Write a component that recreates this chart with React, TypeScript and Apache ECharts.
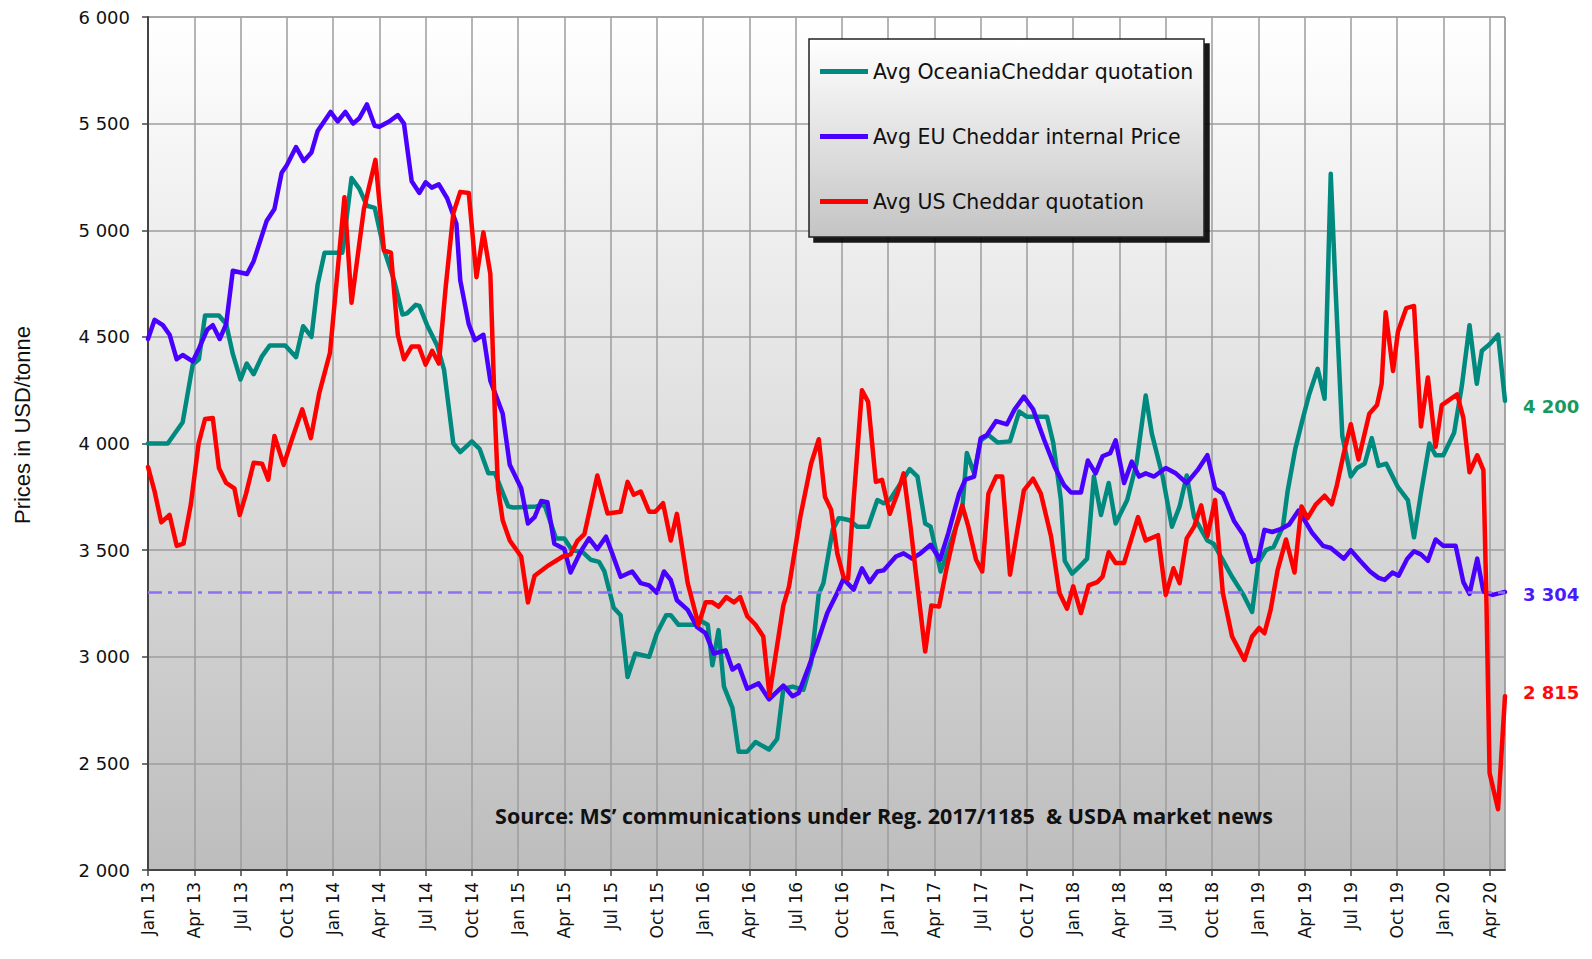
import React, { useEffect, useRef } from "react";
import * as echarts from "echarts";

// x = months since Jan 2013, y = USD/tonne
const quarterLabels = [
  "Jan 13", "Apr 13", "Jul 13", "Oct 13", "Jan 14", "Apr 14", "Jul 14", "Oct 14",
  "Jan 15", "Apr 15", "Jul 15", "Oct 15", "Jan 16", "Apr 16", "Jul 16", "Oct 16",
  "Jan 17", "Apr 17", "Jul 17", "Oct 17", "Jan 18", "Apr 18", "Jul 18", "Oct 18",
  "Jan 19", "Apr 19", "Jul 19", "Oct 19", "Jan 20", "Apr 20",
];

const yTicks = [2000, 2500, 3000, 3500, 4000, 4500, 5000, 5500, 6000];

const seriesNames = [
  "Avg OceaniaCheddar quotation",
  "Avg EU Cheddar internal Price",
  "Avg US Cheddar quotation",
];

const referenceLevel = 3304;

const oceania = [
  [0, 4000], [1.28, 4000], [2.25, 4100], [2.9, 4370], [3.3, 4395], [3.7, 4600], [4.6, 4600], [5.07, 4560],
  [5.5, 4420], [6.0, 4300], [6.4, 4375], [6.85, 4325], [7.4, 4410], [7.9, 4460], [8.9, 4460], [9.6, 4405],
  [10.06, 4550], [10.6, 4500], [11.0, 4745], [11.45, 4895], [12.6, 4895], [13.2, 5245], [13.7, 5195], [14.2, 5115],
  [14.7, 5105], [15.3, 4910], [15.96, 4765], [16.5, 4605], [16.8, 4610], [17.36, 4650], [17.6, 4645], [18.1, 4555],
  [18.75, 4460], [19.2, 4345], [19.8, 4000], [20.25, 3960], [21.0, 4010], [21.5, 3975], [22.07, 3860], [22.5, 3860],
  [23.36, 3705], [23.7, 3700], [25.18, 3705], [25.7, 3715], [26.46, 3555], [27.0, 3555], [27.5, 3500], [28.2, 3490],
  [28.7, 3455], [29.25, 3445], [29.6, 3400], [30.2, 3230], [30.65, 3195], [31.1, 2905], [31.6, 3015], [32.5, 3000],
  [33.0, 3110], [33.6, 3195], [33.9, 3195], [34.4, 3150], [35.4, 3150], [35.8, 3170], [36.3, 3150], [36.6, 2960],
  [37.0, 3125], [37.35, 2860], [37.9, 2760], [38.3, 2555], [38.86, 2555], [39.4, 2600], [40.27, 2565], [40.8, 2615],
  [41.2, 2850], [41.8, 2860], [42.5, 2845], [43.0, 2970], [43.5, 3295], [43.8, 3345], [44.4, 3595], [44.8, 3650],
  [45.0, 3648], [45.5, 3640], [46.0, 3610], [46.7, 3610], [47.3, 3735], [47.7, 3720], [48.1, 3735], [48.6, 3790],
  [49.4, 3880], [49.9, 3845], [50.4, 3625], [50.75, 3610], [51.4, 3400], [51.8, 3485], [52.4, 3610], [52.8, 3690],
  [53.1, 3955], [53.57, 3860], [54.0, 4015], [54.5, 4040], [55.1, 4005], [55.9, 4010], [56.5, 4150], [57.0, 4125],
  [58.3, 4125], [58.7, 4005], [59.2, 3735], [59.45, 3450], [59.93, 3390], [60.37, 3420], [60.9, 3460], [61.34, 3845],
  [61.8, 3665], [62.3, 3815], [62.75, 3625], [63.5, 3735], [64.1, 3905], [64.7, 4225], [65.1, 4045], [65.8, 3845],
  [66.4, 3610], [66.9, 3705], [67.36, 3850], [67.84, 3655], [68.7, 3545], [69.1, 3530], [69.8, 3440], [70.3, 3375],
  [71.0, 3295], [71.6, 3210], [72.0, 3440], [72.5, 3500], [73.0, 3515], [73.6, 3610], [73.9, 3775], [74.4, 3975],
  [74.9, 4120], [75.3, 4230], [75.85, 4350], [76.3, 4210], [76.7, 5265], [77.0, 4745], [77.45, 4035], [78.0, 3845],
  [78.4, 3885], [78.9, 3905], [79.36, 4025], [79.8, 3895], [80.3, 3905], [81.06, 3795], [81.7, 3735], [82.1, 3560],
  [82.57, 3775], [83.1, 4000], [83.5, 3945], [84.0, 3945], [84.7, 4050], [85.2, 4270], [85.7, 4555], [86.17, 4280],
  [86.5, 4435], [87.0, 4465], [87.55, 4510], [88, 4200],
];

const eu = [
  [0, 4490], [0.43, 4580], [0.96, 4555], [1.4, 4510], [1.86, 4395], [2.25, 4415], [2.9, 4385], [3.3, 4445],
  [3.85, 4535], [4.2, 4555], [4.65, 4490], [5.07, 4560], [5.5, 4810], [6.42, 4795], [6.85, 4855], [7.7, 5045],
  [8.2, 5100], [8.67, 5270], [9.0, 5305], [9.6, 5390], [10.1, 5325], [10.6, 5365], [11.0, 5465], [11.84, 5555],
  [12.3, 5510], [12.8, 5555], [13.3, 5500], [13.7, 5525], [14.2, 5590], [14.7, 5490], [15.0, 5485], [15.64, 5510],
  [16.2, 5540], [16.6, 5500], [17.1, 5230], [17.6, 5175], [18.0, 5225], [18.4, 5200], [18.86, 5215], [19.4, 5150],
  [20.0, 5030], [20.25, 4765], [20.8, 4560], [21.2, 4485], [21.75, 4510], [22.2, 4295], [23.0, 4140], [23.46, 3900],
  [24.2, 3790], [24.64, 3625], [25.07, 3655], [25.5, 3730], [25.9, 3725], [26.35, 3530], [27.0, 3505], [27.4, 3395],
  [28.07, 3495], [28.6, 3555], [29.14, 3505], [29.7, 3563], [30.1, 3485], [30.65, 3375], [31.4, 3400], [31.95, 3345],
  [32.5, 3335], [33.0, 3300], [33.46, 3400], [33.9, 3360], [34.3, 3265], [35.0, 3220], [35.6, 3140], [36.16, 3110],
  [36.7, 3015], [37.46, 3030], [37.9, 2940], [38.3, 2960], [38.86, 2850], [39.6, 2875], [40.27, 2800], [41.2, 2865],
  [41.8, 2815], [42.2, 2830], [42.86, 2955], [43.4, 3065], [44.05, 3205], [44.7, 3300], [45.1, 3365], [45.76, 3315],
  [46.3, 3415], [46.8, 3350], [47.3, 3400], [47.7, 3405], [48.5, 3470], [49.0, 3485], [49.55, 3460], [50.1, 3485],
  [50.75, 3525], [51.36, 3455], [51.9, 3580], [52.6, 3765], [53.0, 3830], [53.57, 3845], [54.0, 4025], [54.4, 4040],
  [55.0, 4105], [55.7, 4090], [56.2, 4160], [56.8, 4220], [57.4, 4160], [58.1, 4020], [58.8, 3890], [59.4, 3805],
  [59.86, 3770], [60.5, 3770], [60.95, 3920], [61.45, 3860], [61.9, 3940], [62.4, 3955], [62.75, 4015], [63.3, 3815],
  [63.8, 3915], [64.27, 3845], [64.7, 3860], [65.24, 3845], [66.0, 3885], [66.65, 3860], [67.36, 3815], [68.06, 3875],
  [68.7, 3945], [69.2, 3790], [69.7, 3765], [70.44, 3635], [71.05, 3570], [71.6, 3445], [72.0, 3460], [72.4, 3595],
  [72.9, 3585], [73.5, 3600], [74.0, 3620], [74.6, 3685], [75.0, 3640], [75.5, 3580], [76.2, 3520], [76.7, 3510],
  [77.55, 3460], [78.0, 3500], [78.6, 3450], [79.25, 3400], [79.8, 3370], [80.2, 3360], [80.7, 3395], [81.1, 3380],
  [81.66, 3460], [82.1, 3495], [82.55, 3480], [83.0, 3450], [83.5, 3550], [84.0, 3520], [84.8, 3520], [85.3, 3350],
  [85.7, 3295], [86.2, 3460], [86.6, 3305], [87.2, 3290], [88, 3304],
];

const us = [
  [0, 3890], [0.43, 3775], [0.86, 3630], [1.4, 3665], [1.86, 3520], [2.3, 3530], [2.78, 3715], [3.28, 4000],
  [3.7, 4115], [4.2, 4120], [4.6, 3885], [5.07, 3815], [5.6, 3790], [5.95, 3665], [6.36, 3765], [6.85, 3910],
  [7.4, 3905], [7.8, 3830], [8.2, 4035], [8.8, 3900], [9.36, 4025], [10.0, 4160], [10.56, 4025], [11.1, 4235],
  [11.8, 4425], [12.74, 5155], [13.2, 4660], [14.0, 5100], [14.75, 5330], [15.3, 4905], [15.75, 4895], [16.2, 4510],
  [16.6, 4395], [17.1, 4455], [17.57, 4455], [18.0, 4370], [18.43, 4435], [18.86, 4375], [19.3, 4730], [19.8, 5080],
  [20.25, 5180], [20.8, 5175], [21.3, 4780], [21.75, 4990], [22.2, 4795], [22.5, 4125], [22.7, 3790], [23.0, 3640],
  [23.46, 3545], [24.2, 3470], [24.64, 3255], [25.07, 3380], [26.0, 3430], [26.9, 3470], [27.4, 3480], [27.86, 3545],
  [28.3, 3575], [29.14, 3850], [29.8, 3672], [30.65, 3680], [31.1, 3820], [31.5, 3760], [31.95, 3775], [32.5, 3680],
  [32.9, 3680], [33.4, 3720], [33.9, 3545], [34.3, 3670], [35.0, 3345], [35.7, 3150], [36.16, 3255], [36.6, 3255],
  [37.0, 3235], [37.5, 3280], [38.0, 3255], [38.4, 3280], [38.86, 3190], [39.4, 3150], [39.9, 3095], [40.3, 2820],
  [41.2, 3240], [41.57, 3330], [42.3, 3655], [43.0, 3905], [43.5, 4020], [43.9, 3750], [44.3, 3690], [44.7, 3485],
  [45.1, 3375], [45.4, 3365], [45.76, 3735], [46.3, 4250], [46.7, 4195], [47.2, 3820], [47.6, 3830], [48.1, 3670],
  [48.6, 3765], [49.0, 3860], [49.45, 3610], [49.9, 3330], [50.4, 3025], [50.8, 3240], [51.3, 3235], [51.8, 3420],
  [52.4, 3610], [52.8, 3710], [53.2, 3610], [53.7, 3455], [54.1, 3400], [54.5, 3765], [55.0, 3845], [55.4, 3845],
  [55.9, 3385], [56.8, 3780], [57.4, 3835], [57.9, 3765], [58.56, 3565], [59.1, 3300], [59.6, 3225], [60.0, 3330],
  [60.5, 3205], [61.0, 3335], [61.56, 3350], [61.9, 3375], [62.3, 3490], [62.75, 3440], [63.3, 3440], [64.2, 3655],
  [64.7, 3545], [65.5, 3570], [66.0, 3290], [66.5, 3415], [66.9, 3345], [67.36, 3555], [67.84, 3610], [68.3, 3710],
  [68.7, 3565], [69.2, 3735], [69.7, 3300], [70.3, 3095], [71.1, 2985], [71.6, 3095], [72.06, 3135], [72.4, 3110],
  [72.8, 3220], [73.25, 3405], [73.8, 3550], [74.35, 3395], [74.8, 3705], [75.2, 3650], [75.74, 3715], [76.3, 3755],
  [76.77, 3715], [77.1, 3805], [77.55, 3955], [78.0, 4090], [78.5, 3925], [79.2, 4140], [79.7, 4180], [80.0, 4280],
  [80.26, 4615], [80.74, 4340], [81.06, 4525], [81.6, 4635], [82.1, 4645], [82.55, 4080], [83.0, 4310], [83.5, 3985],
  [83.9, 4180], [84.9, 4230], [85.3, 4120], [85.7, 3865], [86.2, 3945], [86.6, 3875], [86.8, 3245], [87.0, 2455],
  [87.55, 2285], [88, 2815],
];

const colors = ["#00897e", "#4a00ff", "#ff0000"];
const labelColors = ["#17995f", "#4a1aff", "#ff0a0a"];
const labelOffsets = [[0, 6], [0, 3], [0, -4]];

const fmt = (v: number) => String(Math.round(v)).replace(/\B(?=(\d{3})+(?!\d))/g, " ");

export default function App() {
  const ref = useRef<HTMLDivElement>(null);

  useEffect(() => {
    if (!ref.current) return;
    const chart = echarts.init(ref.current, undefined, { renderer: "svg" });
    const datasets = [oceania, eu, us];

    const series: any[] = datasets.map((d, i) => ({
      name: seriesNames[i],
      type: "line",
      data: d,
      symbol: "none",
      z: 3 + i,
      lineStyle: { color: colors[i], width: 4.5, join: "round", cap: "round" },
      itemStyle: { color: colors[i] },
      endLabel: {
        show: true,
        formatter: (p: any) => fmt(p.value[1]),
        color: labelColors[i],
        fontWeight: "bold",
        fontSize: 18,
        fontFamily: "DejaVu Sans",
        distance: 18,
        offset: labelOffsets[i],
      },
    }));
    series[1].markLine = {
      silent: true,
      symbol: ["none", "none"],
      label: { show: false },
      lineStyle: { color: "#8f70f2", width: 2.5, type: [14, 6, 4, 6] },
      data: [{ yAxis: referenceLevel }],
    };

    chart.setOption({
      animation: false,
      backgroundColor: "#ffffff",
      grid: {
        left: 148,
        right: 87,
        top: 17,
        bottom: 89,
        show: true,
        borderColor: "#888",
        borderWidth: 1,
        backgroundColor: new echarts.graphic.LinearGradient(0, 0, 0, 1, [
          { offset: 0, color: "#ffffff" },
          { offset: 1, color: "#bdbdbd" },
        ]),
      },
      xAxis: {
        type: "value",
        min: 0,
        max: 88,
        interval: 3,
        axisLine: { show: true, onZero: false, lineStyle: { color: "#444", width: 2 } },
        axisTick: { show: true, length: 6, lineStyle: { color: "#444", width: 1.5 } },
        axisLabel: {
          rotate: 90,
          margin: 12,
          fontSize: 17,
          fontFamily: "DejaVu Sans",
          color: "#111",
          showMaxLabel: false,
          formatter: (v: number) => (v % 3 === 0 ? quarterLabels[v / 3] ?? "" : ""),
        },
        splitLine: { show: true, lineStyle: { color: "#9c9c9c", width: 1.5 } },
      },
      yAxis: {
        type: "value",
        min: yTicks[0],
        max: yTicks[yTicks.length - 1],
        interval: 500,
        axisLine: { show: true, lineStyle: { color: "#444", width: 2 } },
        axisTick: { show: true, length: 6, lineStyle: { color: "#444", width: 1.5 } },
        axisLabel: {
          margin: 18,
          fontSize: 18,
          fontFamily: "DejaVu Sans",
          color: "#111",
          formatter: (v: number) => fmt(v),
        },
        splitLine: { show: true, lineStyle: { color: "#9c9c9c", width: 1.5 } },
      },
      legend: {
        left: 815,
        top: 56,
        orient: "vertical",
        itemWidth: 48,
        itemHeight: 20,
        itemGap: 44,
        icon: "path://M0,0 L48,0 L48,5 L0,5 Z",
        data: seriesNames,
        textStyle: { fontSize: 20.5, fontFamily: "DejaVu Sans", color: "#111" },
        z: 20,
      },
      graphic: [
        {
          type: "rect",
          z: 10,
          shape: { x: 809, y: 39, width: 395, height: 198 },
          style: {
            fill: new echarts.graphic.LinearGradient(0, 0, 0, 1, [
              { offset: 0, color: "#ffffff" },
              { offset: 1, color: "#c4c4c4" },
            ]),
            stroke: "#222",
            lineWidth: 1.5,
            shadowBlur: 1,
            shadowOffsetX: 5,
            shadowOffsetY: 5,
            shadowColor: "rgba(0,0,0,0.9)",
          },
        },
        {
          type: "text",
          z: 10,
          x: 884,
          y: 815,
          style: {
            text: "Source: MS’ communications under Reg. 2017/1185  & USDA market news",
            fontSize: 21.5,
            fontWeight: "bold",
            fontFamily: "Open Sans",
            fill: "#111",
            textAlign: "center",
            textVerticalAlign: "middle",
          },
        },
        {
          type: "text",
          z: 10,
          x: 22,
          y: 425,
          rotation: Math.PI / 2,
          style: {
            text: "Prices in USD/tonne",
            fontSize: 22,
            fontFamily: "Liberation Sans",
            fill: "#111",
            textAlign: "center",
            textVerticalAlign: "middle",
          },
        },
      ],
      series,
    });
    return () => chart.dispose();
  }, []);

  return (
    <div
      ref={ref}
      style={{ position: "absolute", left: 0, top: 0, width: 1592, height: 959 }}
    />
  );
}
